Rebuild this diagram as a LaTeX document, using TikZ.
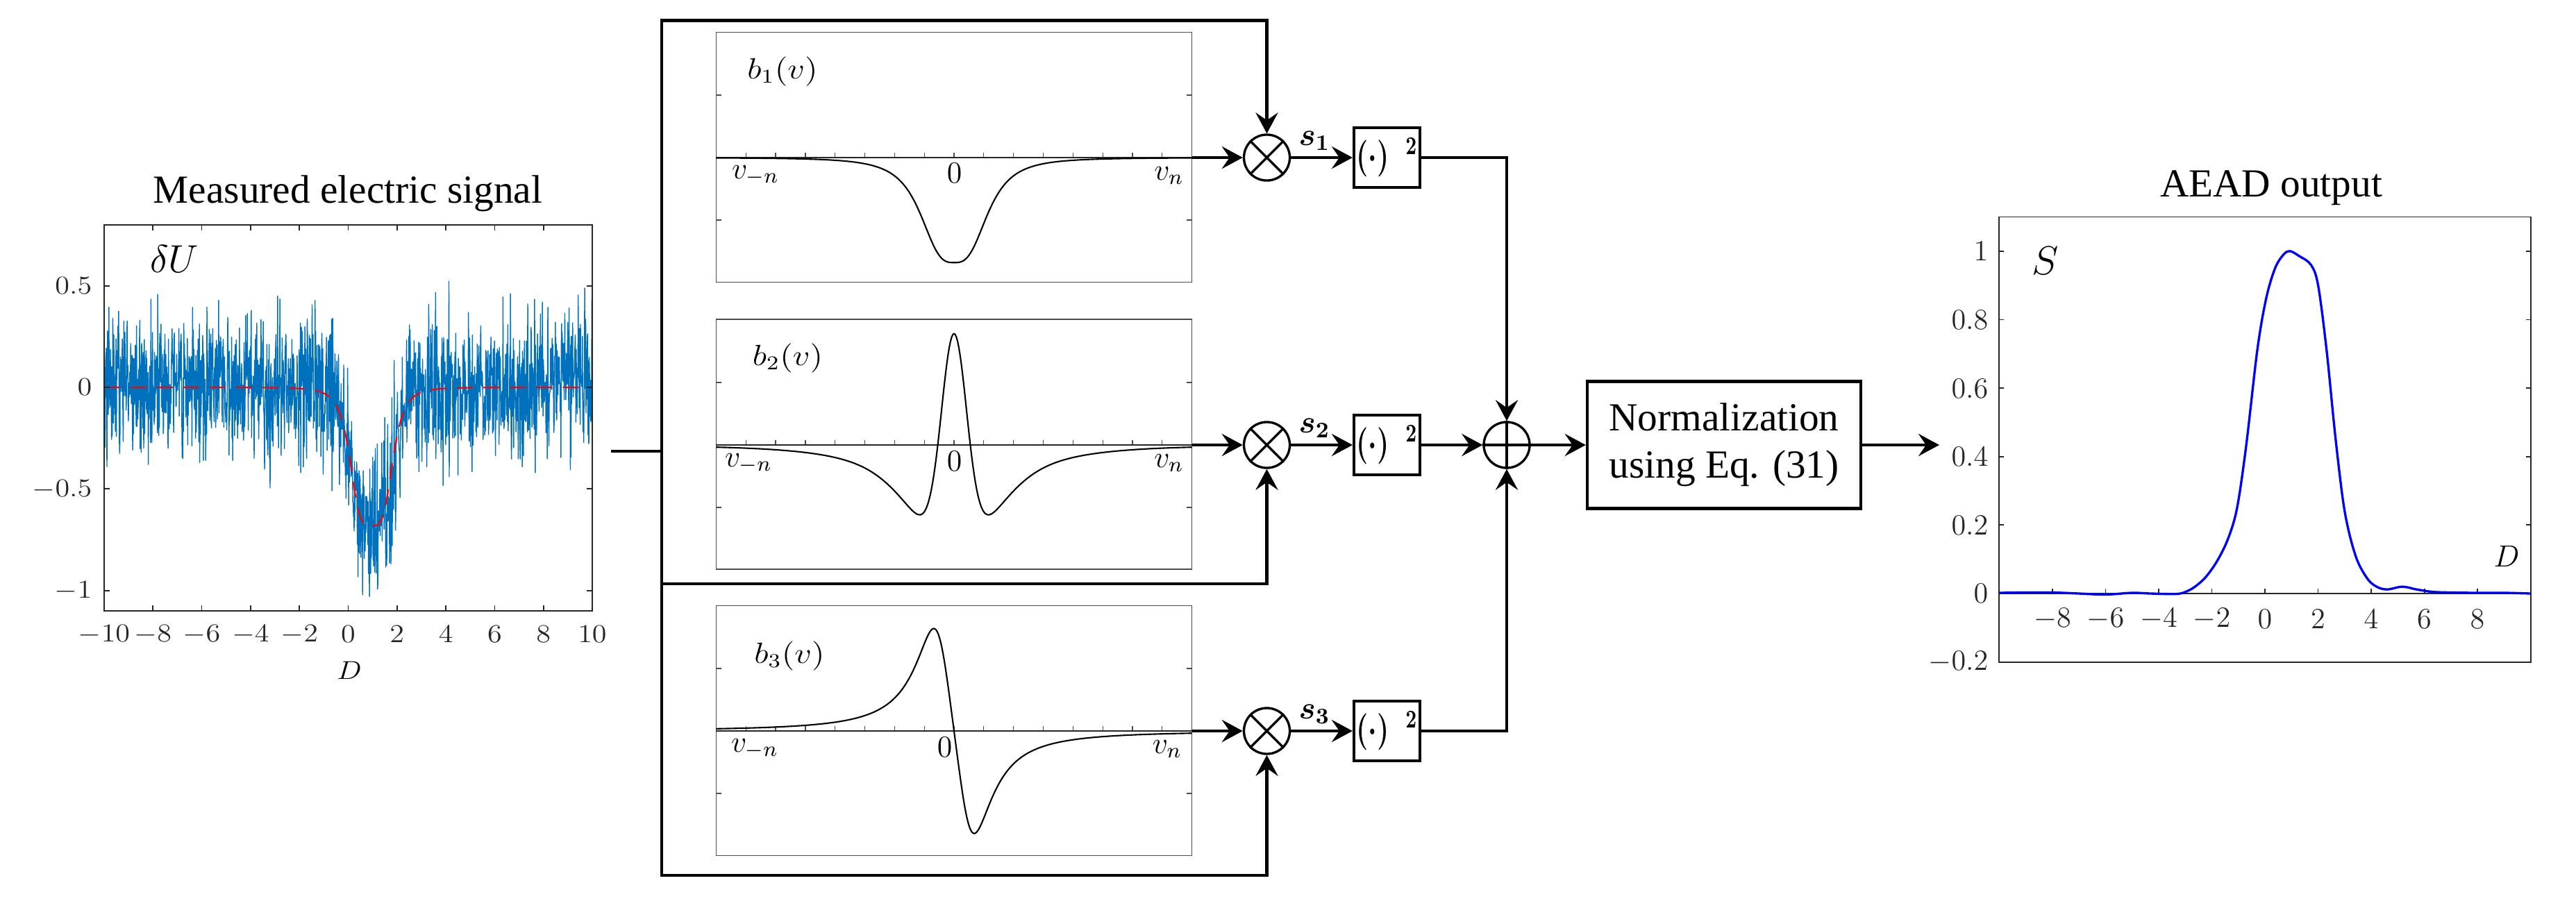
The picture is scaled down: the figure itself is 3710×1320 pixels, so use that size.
\RequirePackage{fix-cm}
\documentclass[tikz,border=0pt]{standalone}
\usepackage{amsmath}
\usepackage{fontspec}
\usepackage{graphicx}
\newfontfamily\tnr{Liberation Serif}
\usetikzlibrary{arrows.meta}
\definecolor{mblue}{rgb}{0,0.447,0.741}
\definecolor{axgray}{rgb}{0.15,0.15,0.15}
\definecolor{sblue}{rgb}{0,0,1}
\newcommand{\myLsq}[1]{\scalebox{1}[0.88]{#1}}
\newcommand{\mySqz}[1]{\scalebox{0.75}[1]{#1}}
\tikzset{
  conn/.style={line width=1.35pt},
  arr/.style={conn,-{Stealth[length=0.30cm,width=0.32cm,inset=0.11cm]}},
  framearr/.style={arr,line cap=rect,line join=miter},
  mult/.style={circle,draw,line width=0.95pt,minimum size=0.66cm,inner sep=0pt},
  sqbox/.style={draw,line width=1.15pt,minimum width=0.95cm,minimum height=0.86cm,inner sep=0pt,font=\fontsize{15}{17}\selectfont\boldmath},
  normbox/.style={draw,line width=1.2pt,minimum width=3.94cm,minimum height=1.83cm,align=center,inner sep=0pt,font=\tnr\fontsize{16.3}{19.35}\selectfont},
  bbox/.style={draw=black!70,line width=0.38pt,minimum width=6.84cm,minimum height=3.6cm,inner sep=0pt},
  ttl/.style={font=\tnr\fontsize{16.3}{19}\selectfont,anchor=base,inner sep=0pt},
  tickl/.style={font=\fontsize{12}{14}\selectfont,inner sep=0pt,text=axgray},
  blab/.style={font=\fontsize{12.5}{15}\selectfont,inner sep=0pt,anchor=base},
  slab/.style={font=\fontsize{13}{15}\selectfont,inner sep=0pt},
  axisline/.style={draw=axgray,line width=0.5pt},
  btick/.style={draw=black!70,line width=0.35pt},
  bcurve/.style={line width=0.6pt,black},
}
\begin{document}
\begin{tikzpicture}[x=0.01cm,y=-0.01cm]
\useasboundingbox (0,0) rectangle (3710,1320);
\fill[white] (0,0) rectangle (3710,1320);

% ================= left plot =================
\node[ttl] (t1) at (501,292) {Measured electric signal};
\begin{scope}[shift={(501.5,558)},x=0.3515cm,y=2.925cm]
  \begin{scope}
    \clip (-10,-1.1) rectangle (10,0.8);
    \pgfmathsetseed{20231}
    \draw[mblue,line width=0.4pt,line join=round] plot[domain=-10:10,samples=1500]
      (\x,{-0.68/(1+(min(abs(\x-0.95),6)/0.9)^4)+0.155*(rand+rand+rand+rand)});
    \draw[red,line width=0.6pt,dash pattern=on 0.23cm off 0.15cm] plot[domain=-10:10,samples=400]
      (\x,{-0.68/(1+(min(abs(\x-0.95),6)/0.9)^4)});
  \end{scope}
  \draw[axisline] (-10,-1.1) rectangle (10,0.8);
  \foreach \t in {-8,-6,...,8} {
    \draw[axisline] (\t,-1.1) -- ++(0pt,0.08cm);
    \draw[axisline] (\t,0.8) -- ++(0pt,-0.08cm);
  }
  \foreach \t in {-1,-0.5,0,0.5} {
    \draw[axisline] (-10,\t) -- ++(0.08cm,0pt);
    \draw[axisline] (10,\t) -- ++(-0.08cm,0pt);
  }
\end{scope}
\foreach \t/\lab in {412/{0.5},558/{0},705/{-0.5},851/{-1}}
  \node[tickl,anchor=east] at (133,\t) {\myLsq{$\lab$}};
\foreach \t in {-10,-8,...,10}
  \node[tickl] at ({501.5+35.15*\t},914) {\myLsq{$\t$}};
\node[font=\fontsize{12}{14}\selectfont,inner sep=0pt] (dl) at (503,966) {\myLsq{$D$}};
\node[font=\fontsize{16}{18}\selectfont,inner sep=0pt] (du) at (251,373) {$\delta U$};

% ================= b plots =================
\node[bbox] (b1) at (1374,226.5) {};
\node[bbox] (b2) at (1374,640) {};
\node[bbox] (b3) at (1374,1052.5) {};

\begin{scope}[shift={(1374,227)},x=0.428cm,y=1.8cm]
  \foreach \t in {-0.5,0.5} {\draw[btick] (-8,\t) -- ++(0.08cm,0pt); \draw[btick] (8,\t) -- ++(-0.08cm,0pt);}
  \foreach \t in {-7,...,7} \draw[btick] (\t,0) -- ++(0pt,0.07cm);
  \draw[black!85,line width=0.5pt] (-8,0) -- (8,0);
  \draw[bcurve] plot[domain=-8:8,samples=321] (\x,{-0.84/(1+(abs(\x)/1.19)^3)});
\end{scope}
\begin{scope}[shift={(1374,641)},x=0.428cm,y=1.8cm]
  \foreach \t in {-0.5,0.5} {\draw[btick] (-8,\t) -- ++(0.08cm,0pt); \draw[btick] (8,\t) -- ++(-0.08cm,0pt);}
  \foreach \t in {-7,...,7} \draw[btick] (\t,0) -- ++(0pt,0.07cm);
  \draw[black!85,line width=0.5pt] (-8,0) -- (8,0);
  \draw[bcurve] plot[domain=-8:8,samples=401]
    (\x,{1.687*exp(-min((\x/0.607)^2,9))-0.521*exp(-min(\x*\x/3.11,9))-0.276/(1+(abs(\x)/3.27)^3)});
\end{scope}
\begin{scope}[shift={(1374,1053)},x=0.428cm,y=1.8cm]
  \foreach \t in {-0.5,0.5} {\draw[btick] (-8,\t) -- ++(0.08cm,0pt); \draw[btick] (8,\t) -- ++(-0.08cm,0pt);}
  \foreach \t in {-7,...,7} \draw[btick] (\t,0) -- ++(0pt,0.07cm);
  \draw[black!85,line width=0.5pt] (-8,0) -- (8,0);
  \draw[bcurve] plot[domain=-8:8,samples=401] (\x,{-1.81*\x/(1+(abs(\x)/0.856)^3)});
\end{scope}

% b labels
\node[blab] at (1088,257) {$v_{-n}$};
\node[blab] at (1374.5,263) {$0$};
\node[blab] at (1683.5,259) {$v_n$};
\node[blab] at (1078,672) {$v_{-n}$};
\node[blab] at (1374.5,678) {$0$};
\node[blab] at (1683.5,673) {$v_n$};
\node[blab] at (1087,1083) {$v_{-n}$};
\node[blab] at (1360.5,1090) {$0$};
\node[blab] at (1681,1085) {$v_n$};
\node[font=\fontsize{12}{14}\selectfont,inner sep=0pt] (lb1) at (1127,103) {\scalebox{1.15}[1]{$b_1(v)$}};
\node[font=\fontsize{12}{14}\selectfont,inner sep=0pt] (lb2) at (1134.5,516) {\scalebox{1.15}[1]{$b_2(v)$}};
\node[font=\fontsize{12}{14}\selectfont,inner sep=0pt] (lb3) at (1137,944.5) {\scalebox{1.15}[1]{$b_3(v)$}};

% ================= block diagram =================
\node[mult] (m1) at (1824.5,227) {};
\node[mult] (m2) at (1824.5,641) {};
\node[mult] (m3) at (1824.5,1053) {};
\foreach \m in {m1,m2,m3}
  \draw[line width=0.95pt] (\m.north east) -- (\m.south west) (\m.north west) -- (\m.south east);
\node[sqbox] (q1) at (1997.5,227) {\mySqz{$(\cdot)^{\hspace{0.6em}2}$}};
\node[sqbox] (q2) at (1997.5,641) {\mySqz{$(\cdot)^{\hspace{0.6em}2}$}};
\node[sqbox] (q3) at (1997.5,1053) {\mySqz{$(\cdot)^{\hspace{0.6em}2}$}};
\node[mult] (sum) at (2170,641) {};
\draw[line width=0.95pt] (sum.north) -- (sum.south) (sum.west) -- (sum.east);
\node[normbox] (norm) at (2483,641) {Normalization\\using Eq. (31)};

\coordinate (in) at (880,650);
\coordinate (fJ) at (953,650);
\coordinate (fTL) at (953,29.5);
\coordinate (fML) at (953,841);
\coordinate (fBL) at (953,1261);
\coordinate (outE) at (2793,641);

\draw[conn] (in) -- (fJ);
\draw[framearr] (fBL) -- (fTL) -| (m1.north);
\draw[framearr] (fML) -| (m2.south);
\draw[framearr] (fBL) -| (m3.south);

\draw[arr] (b1.east |- m1.west) -- (m1.west);
\draw[arr] (b2.east |- m2.west) -- (m2.west);
\draw[arr] (b3.east |- m3.west) -- (m3.west);
\draw[arr] (m1.east) -- (q1.west);
\draw[arr] (m2.east) -- (q2.west);
\draw[arr] (m3.east) -- (q3.west);
\node[slab] (s1) at (1893,203) {$\boldsymbol{s_1}$};
\node[slab] (s2) at (1893,617) {$\boldsymbol{s_2}$};
\node[slab] (s3) at (1893,1029) {$\boldsymbol{s_3}$};
\draw[arr] (q1.east) -| (sum.north);
\draw[arr] (q2.east) -- (sum.west);
\draw[arr] (q3.east) -| (sum.south);
\draw[arr] (sum.east) -- (norm.west);
\draw[arr] (norm.east) -- (outE);

% ================= right plot =================
\node[ttl] (t2) at (3271,283) {AEAD output};
\begin{scope}[shift={(3262,855)},x=0.3825cm,y=4.93cm]
  \draw[axisline] (-10,-0.2) rectangle (10,1.1);
  \draw[axisline] (-10,0) -- (10,0);
  \foreach \t in {0,0.2,0.4,0.6,0.8,1} {
    \draw[axisline] (-10,\t) -- ++(0.07cm,0pt);
    \draw[axisline] (10,\t) -- ++(-0.07cm,0pt);
  }
  \foreach \t in {-8,-6,...,8} \draw[axisline] (\t,0) -- ++(0pt,0.07cm);
  \draw[sblue,line width=0.95pt,line join=round] plot[smooth,tension=0.55] coordinates {
    (-10,0.002) (-9,0.003) (-8,0.003) (-7,0.0) (-6,-0.003) (-5,0.002) (-4.3,0.0) (-3.3,-0.001)
    (-2.9,0.008) (-2.6,0.022) (-2.23,0.048) (-1.8,0.095) (-1.39,0.16) (-1.05,0.25) (-0.71,0.43)
    (-0.29,0.71) (0.04,0.86) (0.38,0.95) (0.7,0.99) (0.94,1.0) (1.3,0.985) (1.73,0.96) (2.0,0.9)
    (2.32,0.71) (2.66,0.45) (3.0,0.24) (3.41,0.11) (3.84,0.045) (4.2,0.02) (4.6,0.012) (5.17,0.02)
    (5.7,0.012) (6.3,0.005) (7,0.003) (8,0.002) (9,0.002) (10,0.0)};
\end{scope}
\foreach \t/\lab in {362/{1},461/{0.8},559.6/{0.6},658/{0.4},757/{0.2},855/{0},954/{-0.2}}
  \node[tickl,anchor=east] at (2864,\t) {$\lab$};
\foreach \t in {-8,-6,...,8}
  \node[tickl] at ({3262+38.25*\t},892) {$\t$};
\node[font=\fontsize{16.5}{18}\selectfont,inner sep=0pt] (sl) at (2946,376) {$S$};
\node[font=\fontsize{12.5}{14}\selectfont,inner sep=0pt] (dr) at (3610,801) {$D$};
\end{tikzpicture}
\end{document}
